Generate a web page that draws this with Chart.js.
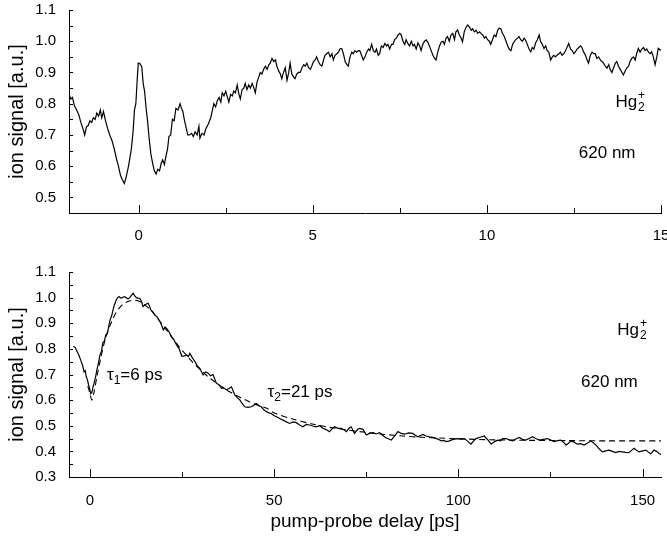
<!DOCTYPE html>
<html>
<head>
<meta charset="utf-8">
<script src="https://cdn.jsdelivr.net/npm/chart.js@4/dist/chart.umd.min.js"></script>
<style>
  body { margin: 0; background: #fff; }
  #wrap { position: relative; width: 667px; height: 544px; }
  canvas { position: absolute; left: 0; }
</style>
</head>
<body>
<div id="wrap">
  <canvas id="topChart" width="667" height="250" style="top:0"></canvas>
  <canvas id="bottomChart" width="667" height="294" style="top:250px"></canvas>
</div>
<script>
// upper panel: short delay scan (-2 .. 15 ps)
const topDelay = [
  -2.00, -1.95, -1.90, -1.85, -1.78, -1.72, -1.66, -1.60, -1.55, -1.50, -1.45, -1.40, -1.35, -1.30, -1.25, -1.20,
  -1.15, -1.10, -1.06, -1.01, -0.95, -0.89, -0.83, -0.76, -0.70, -0.64, -0.58, -0.52, -0.46, -0.41, -0.36, -0.31,
  -0.26, -0.21, -0.16, -0.12, -0.08, -0.04, -0.01, 0.04, 0.09, 0.13, 0.17, 0.21, 0.26, 0.30, 0.35, 0.40,
  0.45, 0.50, 0.55, 0.60, 0.65, 0.69, 0.74, 0.78, 0.83, 0.87, 0.92, 0.97, 1.02, 1.07, 1.13, 1.19,
  1.23, 1.27, 1.31, 1.36, 1.41, 1.46, 1.52, 1.57, 1.62, 1.68, 1.73, 1.76, 1.82, 1.88, 1.93, 2.00,
  2.07, 2.12, 2.16, 2.21, 2.26, 2.31, 2.36, 2.40, 2.45, 2.50, 2.55, 2.59, 2.64, 2.69, 2.73, 2.78,
  2.83, 2.88, 2.92, 2.97, 3.02, 3.06, 3.11, 3.16, 3.21, 3.26, 3.31, 3.35, 3.40, 3.45, 3.49, 3.54,
  3.59, 3.64, 3.69, 3.74, 3.78, 3.83, 3.88, 3.93, 3.97, 4.02, 4.07, 4.11, 4.16, 4.21, 4.26, 4.31,
  4.35, 4.40, 4.45, 4.49, 4.54, 4.59, 4.64, 4.69, 4.74, 4.78, 4.83, 4.88, 4.93, 4.97, 5.02, 5.07,
  5.11, 5.16, 5.21, 5.26, 5.31, 5.35, 5.40, 5.45, 5.50, 5.55, 5.59, 5.64, 5.69, 5.74, 5.78, 5.83,
  5.88, 5.93, 5.98, 6.02, 6.07, 6.12, 6.16, 6.21, 6.26, 6.31, 6.35, 6.40, 6.45, 6.50, 6.55, 6.60,
  6.64, 6.69, 6.74, 6.79, 6.83, 6.88, 6.92, 6.97, 7.02, 7.07, 7.12, 7.16, 7.21, 7.26, 7.30, 7.35,
  7.40, 7.45, 7.50, 7.54, 7.59, 7.64, 7.68, 7.73, 7.78, 7.83, 7.88, 7.92, 7.97, 8.02, 8.07, 8.11,
  8.16, 8.21, 8.26, 8.31, 8.35, 8.40, 8.45, 8.50, 8.54, 8.59, 8.64, 8.69, 8.74, 8.78, 8.83, 8.87,
  8.92, 8.97, 9.02, 9.07, 9.11, 9.16, 9.21, 9.26, 9.30, 9.35, 9.40, 9.45, 9.50, 9.55, 9.59, 9.64,
  9.69, 9.74, 9.79, 9.83, 9.88, 9.93, 9.97, 10.02, 10.07, 10.11, 10.16, 10.21, 10.26, 10.31, 10.35, 10.40,
  10.45, 10.50, 10.55, 10.60, 10.64, 10.69, 10.74, 10.79, 10.83, 10.88, 10.92, 10.97, 11.02, 11.07, 11.11, 11.16,
  11.21, 11.26, 11.30, 11.35, 11.40, 11.45, 11.50, 11.54, 11.59, 11.64, 11.69, 11.73, 11.78, 11.83, 11.88, 11.92,
  11.97, 12.02, 12.07, 12.11, 12.16, 12.21, 12.26, 12.30, 12.35, 12.40, 12.45, 12.50, 12.54, 12.59, 12.64, 12.69,
  12.73, 12.78, 12.83, 12.88, 12.92, 12.97, 13.02, 13.07, 13.11, 13.16, 13.21, 13.26, 13.30, 13.35, 13.40, 13.45,
  13.50, 13.54, 13.59, 13.64, 13.69, 13.73, 13.78, 13.83, 13.88, 13.92, 13.97, 14.02, 14.07, 14.11, 14.16, 14.21,
  14.26, 14.30, 14.35, 14.40, 14.45, 14.50, 14.54, 14.59, 14.64, 14.69, 14.73, 14.78, 14.83, 14.88, 14.92, 15.00
];
const topSignal = [
  0.830, 0.815, 0.820, 0.795, 0.780, 0.765, 0.740, 0.720, 0.700, 0.725, 0.730, 0.745, 0.740, 0.755, 0.750, 0.770,
  0.760, 0.780, 0.755, 0.775, 0.745, 0.720, 0.700, 0.680, 0.655, 0.625, 0.600, 0.570, 0.555, 0.545, 0.565, 0.590,
  0.620, 0.655, 0.710, 0.780, 0.800, 0.880, 0.930, 0.928, 0.918, 0.865, 0.840, 0.790, 0.740, 0.690, 0.640, 0.610,
  0.585, 0.575, 0.590, 0.585, 0.610, 0.620, 0.605, 0.630, 0.655, 0.695, 0.700, 0.750, 0.745, 0.785, 0.780, 0.800,
  0.785, 0.775, 0.750, 0.725, 0.700, 0.700, 0.705, 0.695, 0.710, 0.700, 0.728, 0.690, 0.705, 0.700, 0.720, 0.735,
  0.755, 0.780, 0.800, 0.790, 0.810, 0.820, 0.805, 0.835, 0.825, 0.840, 0.820, 0.805, 0.830, 0.825, 0.840, 0.835,
  0.860, 0.830, 0.815, 0.845, 0.850, 0.865, 0.845, 0.860, 0.850, 0.865, 0.850, 0.835, 0.870, 0.885, 0.900, 0.895,
  0.910, 0.920, 0.910, 0.925, 0.930, 0.945, 0.935, 0.940, 0.920, 0.905, 0.895, 0.880, 0.900, 0.915, 0.875, 0.900,
  0.930, 0.895, 0.885, 0.880, 0.895, 0.900, 0.900, 0.915, 0.925, 0.920, 0.930, 0.915, 0.910, 0.920, 0.935, 0.940,
  0.950, 0.935, 0.925, 0.920, 0.940, 0.955, 0.960, 0.965, 0.950, 0.960, 0.940, 0.955, 0.960, 0.965, 0.975, 0.977,
  0.960, 0.935, 0.925, 0.920, 0.950, 0.965, 0.960, 0.970, 0.965, 0.970, 0.970, 0.955, 0.940, 0.950, 0.965, 0.975,
  0.970, 0.990, 0.970, 0.965, 0.975, 0.955, 0.960, 0.985, 0.980, 0.993, 0.985, 0.990, 0.975, 0.990, 0.990, 1.005,
  1.010, 1.020, 1.025, 1.020, 1.000, 0.990, 1.005, 0.993, 0.985, 1.000, 0.985, 0.990, 0.975, 0.995, 0.985, 0.970,
  0.990, 1.000, 1.004, 0.995, 0.985, 0.970, 0.955, 0.945, 0.940, 0.965, 0.985, 0.998, 1.000, 0.990, 1.010, 1.015,
  1.000, 1.020, 1.025, 1.005, 1.030, 1.036, 1.020, 1.010, 0.998, 1.030, 1.045, 1.052, 1.045, 1.035, 1.040, 1.030,
  1.035, 1.025, 1.030, 1.025, 1.020, 1.010, 1.015, 1.005, 1.000, 0.990, 1.005, 1.020, 1.015, 1.035, 1.042, 1.040,
  1.025, 1.015, 1.000, 0.985, 0.975, 0.970, 0.990, 1.000, 1.005, 1.010, 1.015, 1.005, 1.000, 1.010, 1.004, 0.990,
  0.975, 0.966, 0.980, 0.975, 0.995, 1.005, 1.020, 1.000, 0.990, 0.977, 0.985, 0.970, 0.965, 0.940, 0.950, 0.955,
  0.950, 0.956, 0.960, 0.965, 0.955, 0.960, 0.970, 0.980, 0.993, 0.975, 0.970, 0.960, 0.966, 0.975, 0.980, 0.985,
  0.980, 0.965, 0.955, 0.940, 0.930, 0.955, 0.965, 0.960, 0.960, 0.945, 0.950, 0.940, 0.935, 0.930, 0.920, 0.914,
  0.925, 0.910, 0.900, 0.915, 0.930, 0.935, 0.920, 0.910, 0.900, 0.892, 0.905, 0.915, 0.920, 0.935, 0.945, 0.950,
  0.940, 0.960, 0.977, 0.965, 0.975, 0.980, 0.970, 0.975, 0.965, 0.960, 0.966, 0.950, 0.925, 0.950, 0.977, 0.970
];

// lower panel: long delay scan (-5 .. 155 ps) with biexponential fit
const bottomDelay = [
  -4.5, -4.0, -3.5, -3.0, -2.5, -2.0, -1.6, -1.3, -1.0, -0.7, -0.4, -0.1, 0.2, 0.5, 0.8, 1.1,
  1.5, 1.9, 2.3, 2.7, 3.1, 3.5, 3.9, 4.3, 4.7, 5.1, 5.5, 5.9, 6.3, 6.7, 7.1, 7.5,
  7.9, 8.3, 8.8, 9.3, 9.8, 10.3, 10.8, 11.3, 11.7, 12.1, 12.6, 13.0, 13.5, 14.0, 14.4, 14.8,
  15.3, 15.8, 16.2, 16.5, 17.0, 17.6, 18.2, 18.6, 19.0, 19.5, 19.9, 20.4, 20.8, 21.4, 22.1, 22.8,
  23.5, 24.2, 24.9, 25.5, 26.2, 26.7, 27.1, 27.8, 28.5, 29.1, 29.8, 30.3, 30.7, 31.4, 32.1, 32.7,
  33.4, 34.3, 35.0, 35.7, 36.3, 37.0, 37.7, 38.4, 39.3, 40.0, 40.7, 41.4, 42.0, 42.9, 43.8, 44.5,
  45.2, 45.8, 46.5, 47.2, 47.9, 48.6, 49.2, 49.9, 50.6, 51.5, 52.4, 53.3, 54.2, 55.1, 56.0, 56.9,
  57.8, 58.7, 59.6, 60.5, 61.4, 62.3, 63.2, 64.1, 65.0, 65.7, 66.4, 67.3, 68.2, 68.9, 69.6, 70.3,
  70.9, 71.8, 72.7, 73.2, 74.1, 75.0, 75.9, 76.8, 77.7, 78.6, 79.3, 79.9, 80.8, 81.8, 82.7, 83.6,
  84.5, 85.4, 86.5, 87.6, 88.3, 89.0, 89.7, 90.4, 91.2, 92.1, 93.0, 94.0, 94.7, 95.3, 96.0, 96.7,
  97.4, 98.0, 98.9, 99.8, 100.7, 101.6, 102.5, 103.4, 104.1, 104.8, 105.9, 107.0, 108.0, 108.9, 109.8, 110.7,
  111.4, 112.0, 112.9, 113.8, 114.7, 115.6, 116.5, 117.4, 118.3, 119.2, 120.1, 121.0, 122.0, 123.1, 124.2, 125.1,
  126.0, 126.9, 127.8, 128.5, 129.2, 129.9, 130.5, 131.4, 132.3, 133.2, 134.1, 135.0, 135.9, 136.6, 137.3, 138.2,
  139.1, 140.0, 140.9, 141.8, 142.7, 143.6, 144.5, 145.4, 146.3, 147.0, 147.7, 148.3, 149.0, 150.0, 150.9, 151.5,
  152.2, 153.1, 153.8, 154.5, 155.0
];
const bottomSignal = [
  0.810, 0.805, 0.790, 0.775, 0.755, 0.735, 0.710, 0.715, 0.690, 0.680, 0.660, 0.645, 0.625, 0.630, 0.650, 0.665,
  0.690, 0.720, 0.745, 0.775, 0.790, 0.825, 0.830, 0.855, 0.860, 0.890, 0.915, 0.930, 0.955, 0.975, 0.990, 1.000,
  1.004, 0.998, 1.000, 1.004, 1.000, 0.995, 1.000, 1.010, 1.017, 1.008, 1.000, 0.998, 0.997, 0.985, 0.965, 0.970,
  0.975, 0.978, 0.965, 0.952, 0.945, 0.932, 0.925, 0.915, 0.906, 0.890, 0.874, 0.885, 0.880, 0.868, 0.848, 0.835,
  0.815, 0.800, 0.772, 0.772, 0.776, 0.770, 0.783, 0.765, 0.750, 0.735, 0.724, 0.710, 0.698, 0.710, 0.705, 0.695,
  0.700, 0.666, 0.660, 0.646, 0.648, 0.640, 0.645, 0.652, 0.620, 0.610, 0.600, 0.585, 0.574, 0.572, 0.574, 0.580,
  0.587, 0.578, 0.574, 0.562, 0.555, 0.550, 0.548, 0.540, 0.535, 0.528, 0.522, 0.515, 0.509, 0.515, 0.512, 0.503,
  0.496, 0.505, 0.503, 0.499, 0.496, 0.500, 0.490, 0.485, 0.477, 0.488, 0.496, 0.490, 0.490, 0.484, 0.477, 0.490,
  0.496, 0.470, 0.486, 0.490, 0.486, 0.464, 0.470, 0.473, 0.468, 0.473, 0.465, 0.457, 0.450, 0.444, 0.460, 0.477,
  0.470, 0.467, 0.472, 0.470, 0.463, 0.457, 0.462, 0.466, 0.460, 0.457, 0.455, 0.450, 0.446, 0.441, 0.443, 0.438,
  0.440, 0.444, 0.448, 0.450, 0.448, 0.450, 0.440, 0.428, 0.440, 0.450, 0.455, 0.460, 0.445, 0.428, 0.438, 0.444,
  0.441, 0.450, 0.450, 0.445, 0.441, 0.448, 0.454, 0.447, 0.444, 0.450, 0.457, 0.450, 0.444, 0.447, 0.450, 0.444,
  0.438, 0.442, 0.444, 0.436, 0.425, 0.432, 0.441, 0.436, 0.428, 0.430, 0.425, 0.432, 0.441, 0.434, 0.425, 0.410,
  0.398, 0.402, 0.405, 0.400, 0.395, 0.400, 0.398, 0.396, 0.395, 0.404, 0.412, 0.405, 0.398, 0.402, 0.405, 0.398,
  0.390, 0.405, 0.400, 0.392, 0.388
];
const fitDelay = [
  -0.6, 0.0, 0.5, 1.0, 2.0, 3.0, 4.0, 5.0, 6.0, 7.0, 8.0, 9.0, 10.0, 11.0, 12.0, 13.0,
  14.0, 15.0, 16.0, 17.0, 18.0, 19.0, 20.0, 22.0, 24.0, 26.0, 28.0, 30.0, 32.0, 34.0, 36.0, 38.0,
  40.0, 42.0, 44.0, 46.0, 48.0, 50.0, 55.0, 60.0, 65.0, 70.0, 75.0, 80.0, 85.0, 90.0, 95.0, 100.0,
  110.0, 120.0, 130.0, 140.0, 155.0
];
const fitSignal = [
  0.655, 0.625, 0.600, 0.625, 0.700, 0.770, 0.830, 0.875, 0.910, 0.940, 0.960, 0.975, 0.983, 0.988, 0.990, 0.988,
  0.980, 0.970, 0.958, 0.943, 0.926, 0.907, 0.888, 0.850, 0.812, 0.778, 0.746, 0.718, 0.692, 0.670, 0.650, 0.632,
  0.616, 0.602, 0.589, 0.578, 0.568, 0.550, 0.526, 0.508, 0.494, 0.483, 0.474, 0.466, 0.460, 0.455, 0.452, 0.449,
  0.445, 0.443, 0.442, 0.441, 0.441
];

const topNotes = [
  { kind: 'ion', x: 13.69, y: 0.79 },
  { kind: 'text', text: '620 nm', x: 12.64, y: 0.627 }
];
const bottomNotes = [
  { kind: 'ion', x: 143.1, y: 0.854 },
  { kind: 'text', text: '620 nm', x: 133.3, y: 0.651 },
  { kind: 'tau', sub: '1', text: '=6 ps', x: 4.6, y: 0.678 },
  { kind: 'tau', sub: '2', text: '=21 ps', x: 48.2, y: 0.612 }
];

const FONT = 'Arial, "Liberation Sans", sans-serif';
Chart.defaults.font.family = FONT;
Chart.defaults.color = '#000';

function toPoints(xs, ys) {
    return xs.map((x, i) => ({ x: x, y: ys[i] }));
}

// ticks point into the plot area, as in the original figure
const innerTicks = {
    id: 'innerTicks',
    afterDraw(chart) {
        const { ctx, chartArea } = chart;
        const xs = chart.scales.x, ys = chart.scales.y;
        ctx.save();
        ctx.strokeStyle = '#000';
        ctx.lineWidth = 1;
        ctx.beginPath();
        xs.ticks.forEach(t => {
            const px = Math.round(xs.getPixelForValue(t.value)) + 0.5;
            const len = t.label !== '' ? 8 : 5;
            ctx.moveTo(px, chartArea.bottom + 1);
            ctx.lineTo(px, chartArea.bottom - len);
        });
        ys.ticks.forEach(t => {
            const py = Math.round(ys.getPixelForValue(t.value)) + 0.5;
            ctx.moveTo(chartArea.left, py);
            ctx.lineTo(chartArea.left + 4, py);
        });
        ctx.stroke();
        ctx.restore();
    }
};

const notesPlugin = {
    id: 'notes',
    afterDraw(chart, args, opts) {
        const ctx = chart.ctx;
        const xs = chart.scales.x, ys = chart.scales.y;
        ctx.save();
        ctx.fillStyle = '#000';
        ctx.textBaseline = 'alphabetic';
        ctx.textAlign = 'left';
        (opts.items || []).forEach(n => {
            const px = xs.getPixelForValue(n.x);
            const py = ys.getPixelForValue(n.y);
            if (n.kind === 'ion') {
                ctx.font = `17px ${FONT}`;
                ctx.fillText('Hg', px, py);
                const w = ctx.measureText('Hg').width;
                ctx.font = `12px ${FONT}`;
                ctx.fillText('2', px + w + 1, py + 4);
                ctx.fillText('+', px + w + 1, py - 8);
            } else if (n.kind === 'tau') {
                ctx.font = `17px ${FONT}`;
                ctx.fillText('τ', px, py);
                let w = ctx.measureText('τ').width;
                ctx.font = `12px ${FONT}`;
                ctx.fillText(n.sub, px + w, py + 4);
                w += ctx.measureText(n.sub).width;
                ctx.font = `17px ${FONT}`;
                ctx.fillText(n.text, px + w, py);
            } else {
                ctx.font = `17px ${FONT}`;
                ctx.fillText(n.text, px, py);
            }
        });
        ctx.restore();
    }
};

function yTickLabel(v) {
    return Math.abs(v * 10 - Math.round(v * 10)) < 1e-6 ? v.toFixed(1) : '';
}

function makeChart(canvasId, cfg) {
    const datasets = [{
        data: toPoints(cfg.xData, cfg.yData),
        borderColor: '#000',
        borderWidth: 1.2,
        pointRadius: 0,
        tension: 0
    }];
    if (cfg.fitX) {
        datasets.push({
            data: toPoints(cfg.fitX, cfg.fitY),
            borderColor: '#000',
            borderWidth: 1.1,
            borderDash: [6, 4],
            pointRadius: 0,
            tension: 0.3
        });
    }
    return new Chart(document.getElementById(canvasId).getContext('2d'), {
        type: 'line',
        data: { datasets: datasets },
        options: {
            responsive: false,
            animation: false,
            devicePixelRatio: 1,
            layout: { padding: { top: cfg.padTop, right: 6, left: 0, bottom: 0 } },
            plugins: { legend: { display: false }, tooltip: { enabled: false }, notes: { items: cfg.notes } },
            scales: {
                x: {
                    type: 'linear',
                    min: cfg.xMin, max: cfg.xMax,
                    grid: { display: false, drawTicks: false },
                    border: { display: true, color: '#000', width: 1 },
                    ticks: {
                        stepSize: cfg.xStep, includeBounds: false, autoSkip: false, maxRotation: 0,
                        padding: cfg.xLabelPad, font: { size: 15 },
                        callback: v => (Math.abs(v % cfg.xLabelEvery) < 1e-6 ? String(v) : '')
                    },
                    title: cfg.xTitle ? {
                        display: true, text: cfg.xTitle, font: { size: 19 }, padding: { top: 0, bottom: 11 }
                    } : { display: false },
                    afterFit: s => { s.height = cfg.xHeight; s.paddingRight = 0; s.paddingLeft = 0; }
                },
                y: {
                    min: cfg.yMin, max: 1.1,
                    grid: { display: false, drawTicks: false },
                    border: { display: true, color: '#000', width: 1 },
                    ticks: {
                        stepSize: 0.05, includeBounds: false, autoSkip: false,
                        padding: 13, font: { size: 15 }, callback: yTickLabel
                    },
                    title: { display: true, text: 'ion signal [a.u.]', font: { size: 20 }, padding: { top: 5, bottom: 0 } },
                    afterFit: s => { s.width = 69; s.paddingTop = 0; s.paddingBottom = 0; }
                }
            }
        },
        plugins: [innerTicks, notesPlugin]
    });
}

makeChart('topChart', {
    xData: topDelay, yData: topSignal,
    xMin: -2, xMax: 15, xStep: 2.5, xLabelEvery: 5, xLabelPad: 14, xHeight: 37,
    yMin: 0.45, padTop: 10, notes: topNotes
});

makeChart('bottomChart', {
    xData: bottomDelay, yData: bottomSignal, fitX: fitDelay, fitY: fitSignal,
    xMin: -5.7, xMax: 155, xStep: 25, xLabelEvery: 50, xLabelPad: 15, xHeight: 67,
    xTitle: 'pump-probe delay [ps]',
    yMin: 0.3, padTop: 22, notes: bottomNotes
});
</script>
</body>
</html>
